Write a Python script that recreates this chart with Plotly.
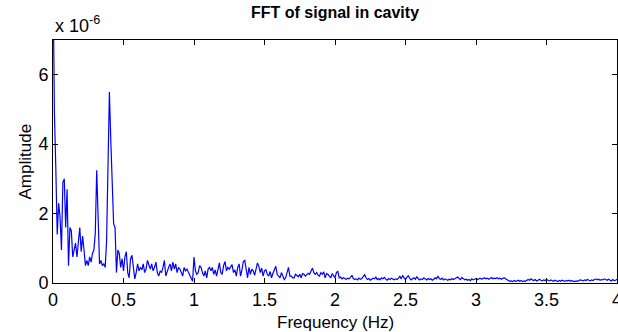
import plotly.graph_objects as go

# Frequency grid: FFT bins from 0 to 4 Hz, spacing 0.01 Hz
freq_start = 0.0
freq_step = 0.01

# Amplitude in units of 1e-6
amp_0_050 = [
    9.0, 4.9, 3.3, 1.4, 2.3, 1.9, 0.95, 2.9, 3.0, 1.6,
    2.7, 0.5, 1.6, 1.5, 0.75, 0.95, 1.15, 0.75, 1.15, 1.6,
    0.9, 1.35, 0.95, 0.5, 0.65, 0.5, 0.75, 0.6, 0.85, 0.95,
    1.45, 3.25, 1.9, 0.55, 0.65, 0.5, 0.55, 0.45, 1.2, 3.5,
    5.5, 4.1, 3.0, 1.7, 1.6, 0.3, 0.95, 0.85, 0.45, 0.7,
    0.35,
]
amp_051_100 = [
    0.75, 0.9, 0.3, 0.15, 0.7, 0.8, 0.5, 0.12, 0.3, 0.55,
    0.35, 0.45, 0.38, 0.55, 0.3, 0.4, 0.65, 0.55, 0.4, 0.55,
    0.35, 0.45, 0.6, 0.3, 0.2, 0.35, 0.3, 0.45, 0.65, 0.2,
    0.35, 0.45, 0.55, 0.35, 0.6, 0.4, 0.55, 0.3, 0.45, 0.4,
    0.3, 0.2, 0.45, 0.35, 0.4, 0.3, 0.2, 0.15, 0.05, 0.75,
]
amp_101_204 = [
    0.35, 0.25, 0.3, 0.5, 0.45, 0.3, 0.2, 0.35, 0.15, 0.4,
    0.45, 0.35, 0.45, 0.25, 0.38, 0.2, 0.4, 0.58, 0.3, 0.25,
    0.5, 0.62, 0.35, 0.45, 0.4, 0.45, 0.53, 0.3, 0.38, 0.2,
    0.45, 0.55, 0.2, 0.38, 0.62, 0.65, 0.4, 0.15, 0.45, 0.25,
    0.4, 0.35, 0.22, 0.45, 0.58, 0.48, 0.3, 0.43, 0.2, 0.35,
    0.38, 0.25, 0.2, 0.33, 0.15, 0.28, 0.38, 0.48, 0.25, 0.18,
    0.15, 0.3, 0.18, 0.1, 0.15, 0.3, 0.45, 0.2, 0.2, 0.15,
    0.15, 0.25, 0.2, 0.18, 0.25, 0.15, 0.27, 0.25, 0.2, 0.25,
    0.28, 0.25, 0.33, 0.43, 0.3, 0.25, 0.3, 0.22, 0.2, 0.3,
    0.25, 0.32, 0.15, 0.27, 0.25, 0.18, 0.15, 0.27, 0.2, 0.15,
    0.3, 0.34, 0.15, 0.17,
]
amp_205_400 = [
    0.12, 0.15, 0.13, 0.10, 0.14, 0.12, 0.16, 0.22, 0.13, 0.10,
    0.12, 0.09, 0.14, 0.11, 0.13, 0.20, 0.24, 0.15, 0.10, 0.13,
    0.08, 0.11, 0.14, 0.12, 0.17, 0.10, 0.13, 0.09, 0.15, 0.12,
    0.16, 0.11, 0.08, 0.13, 0.10, 0.14, 0.11, 0.09, 0.12, 0.10,
    0.14, 0.19, 0.12, 0.22, 0.15, 0.10, 0.17, 0.21, 0.13, 0.09,
    0.12, 0.15, 0.11, 0.18, 0.13, 0.09, 0.12, 0.10, 0.15, 0.12,
    0.09, 0.13, 0.10, 0.12, 0.08, 0.11, 0.15, 0.12, 0.20, 0.13,
    0.10, 0.14, 0.09, 0.12, 0.10, 0.08, 0.11, 0.09, 0.13, 0.10,
    0.12, 0.15, 0.17, 0.13, 0.10, 0.16, 0.12, 0.09, 0.11, 0.08,
    0.10, 0.07, 0.12, 0.09, 0.11, 0.13, 0.10, 0.12, 0.14, 0.11,
    0.13, 0.15, 0.12, 0.14, 0.11, 0.13, 0.16, 0.12, 0.14, 0.13,
    0.15, 0.12, 0.14, 0.11, 0.13, 0.15, 0.12, 0.09, 0.06, 0.05,
    0.06, 0.04, 0.07, 0.05, 0.06, 0.08, 0.05, 0.07, 0.04, 0.06,
    0.05, 0.07, 0.10, 0.08, 0.12, 0.09, 0.07, 0.10, 0.06, 0.08,
    0.11, 0.08, 0.06, 0.09, 0.07, 0.10, 0.08, 0.06, 0.09, 0.07,
    0.05, 0.08, 0.06, 0.04, 0.07, 0.05, 0.08, 0.06, 0.05, 0.07,
    0.06, 0.08, 0.05, 0.07, 0.06, 0.04, 0.06, 0.05, 0.07, 0.09,
    0.08, 0.06, 0.09, 0.07, 0.10, 0.08, 0.06, 0.09, 0.07, 0.10,
    0.12, 0.09, 0.11, 0.08, 0.10, 0.09, 0.12, 0.10, 0.08, 0.11,
    0.09, 0.06, 0.10, 0.07, 0.08, 0.11,
]
amplitude_e6 = amp_0_050 + amp_051_100 + amp_101_204 + amp_205_400

x_ticks = [0, 0.5, 1, 1.5, 2, 2.5, 3, 3.5, 4]
x_tick_labels = ["0", "0.5", "1", "1.5", "2", "2.5", "3", "3.5", "4"]
y_ticks = [0, 2, 4, 6]
y_tick_labels = ["0", "2", "4", "6"]

FONT = "Liberation Sans, Arial, Helvetica, sans-serif"

W, H = 618, 332
ML, MR, MT, MB = 53, 1, 40, 49
PW, PH = W - ML - MR, H - MT - MB

fig = go.Figure()
fig.add_trace(go.Scatter(
    x0=freq_start, dx=freq_step, y=amplitude_e6,
    mode="lines",
    line=dict(color="#0000FF", width=1.2),
    showlegend=False,
    hoverinfo="skip",
))

axis_common = dict(
    showline=True, linecolor="black", linewidth=1, mirror="ticks",
    ticks="inside", ticklen=5, tickwidth=1, tickcolor="black",
    showgrid=False, zeroline=False, automargin=False,
    ticklabeloverflow="allow",
    tickfont=dict(family=FONT, size=18, color="black"),
)

fig.update_layout(
    width=W, height=H,
    margin=dict(l=ML, r=MR, t=MT, b=MB, autoexpand=False),
    paper_bgcolor="white", plot_bgcolor="white",
    font=dict(family=FONT, color="black"),
    xaxis=dict(range=[0, 4], tickvals=x_ticks, ticktext=x_tick_labels, **axis_common),
    yaxis=dict(range=[0, 7], tickvals=y_ticks, ticktext=y_tick_labels, **axis_common),
    annotations=[
        dict(text="<b>FFT of signal in cavity</b>",
             xref="paper", yref="paper", x=0.5, y=1 + (MT - 12) / PH,
             xanchor="center", yanchor="middle", showarrow=False,
             font=dict(family=FONT, size=16, color="black")),
        dict(text="Frequency (Hz)",
             xref="paper", yref="paper", x=0.5, y=-(322 - (H - MB)) / PH,
             xanchor="center", yanchor="middle", showarrow=False,
             font=dict(family=FONT, size=17, color="black")),
        dict(text="Amplitude", textangle=-90,
             xref="paper", yref="paper", x=-(ML - 25) / PW, y=0.5,
             xanchor="center", yanchor="middle", showarrow=False,
             font=dict(family=FONT, size=17, color="black")),
        dict(text="x 10<sup>-6</sup>",
             xref="paper", yref="paper", x=0, y=1,
             xanchor="left", yanchor="bottom", yshift=2,
             showarrow=False,
             font=dict(family=FONT, size=18, color="black")),
    ],
)

fig.write_html(
    "out.html",
    config={"displayModeBar": False},
    post_script="document.body.style.margin='0';document.body.style.overflow='hidden';",
)
